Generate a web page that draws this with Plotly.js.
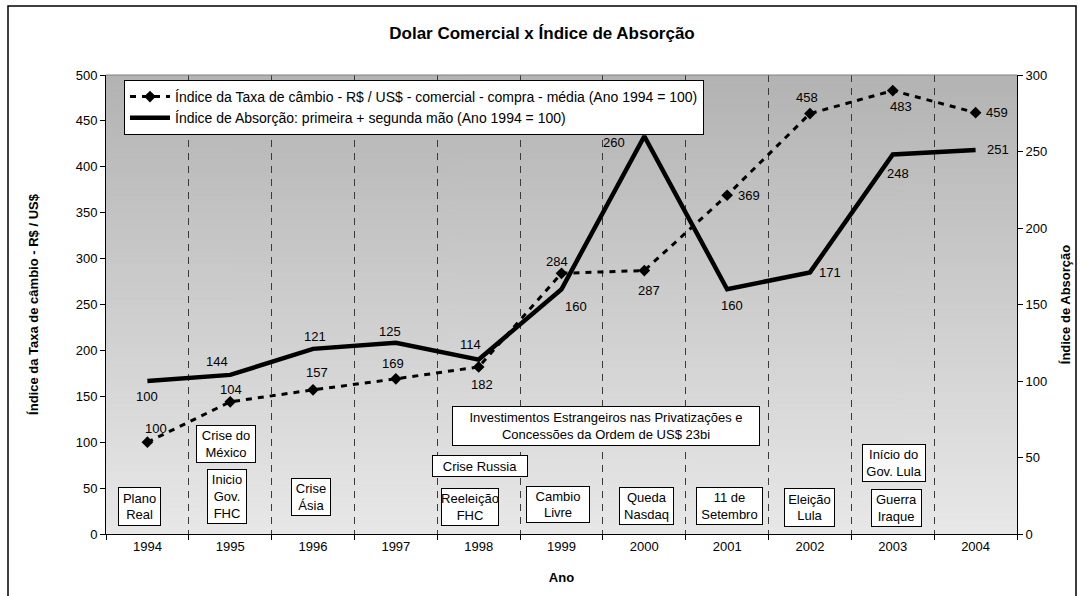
<!DOCTYPE html>
<html>
<head>
<meta charset="utf-8">
<script src="https://cdn.plot.ly/plotly-3.0.1.min.js"></script>
<style>html,body{margin:0;padding:0;background:#fff}#chart{width:1084px;height:596px}</style>
</head>
<body>
<div id="chart"></div>
<script>
// ---- data ----
const years = ['1994','1995','1996','1997','1998','1999','2000','2001','2002','2003','2004'];
const cambio = [100,144,157,169,182,284,287,369,458,483,459];
const absorcao = [100,104,121,125,114,160,260,160,171,248,251];
const cambioLabels = ['100','104','157','169','182','284','287','369','458','483','459'];
const absorcaoLabels = ['100','144','121','125','114','160','260','160','171','248','251'];
const cambioName = 'Índice da Taxa de câmbio - R$ / US$ - comercial - compra - média (Ano 1994 = 100)';
const absorcaoName = 'Índice de Absorção: primeira + segunda mão (Ano 1994 = 100)';
const eventTexts = ['Plano<br>Real','Crise do<br>México','Inicio<br>Gov.<br>FHC','Crise<br>Ásia','Crise Russia',
  'Investimentos Estrangeiros nas Privatizações e<br>Concessões da Ordem de US$ 23bi',
  'Reeleição<br>FHC','Cambio<br>Livre','Queda<br>Nasdaq','11 de<br>Setembro','Eleição<br>Lula','Início do<br>Gov. Lula','Guerra<br>Iraque'];

// ---- label placement (pixel offsets) ----
const cambioOff = [[9,-14],[1,-12],[4,-17],[-3,-15],[3,18],[-5,-12],[5,20],[22,0],[-3,-16],[8,16],[21,0]];
const absOff = [[0,15],[-13,-13],[2,-12],[-6,-11],[-8,-15],[14,17],[-30,6],[5,16],[20,0],[5,19],[22,0]];
// event boxes in pixels: x0,x1,y0,y1
const eventBoxes = [[118,161,487,526],[196,256,425,463],[207,247,469,524],[291,331,478,516],[432,528,455,477],
  [452,760,406,446],[441,499,488,526],[526,590,486,523],[619,674,487,525],[696,763,487,525],[784,835,488,527],
  [862,926,444,482],[871,922,489,527]];

const PL=106, PR=1017, PT=75, PB=534;
const px2x = p => (p-PL)/(PR-PL);
const py2y = p => (PB-p)/(PB-PT);
const FONT = 'Arial, "Liberation Sans", sans-serif';

// gradient background image
function gradientURL(){
  const c=document.createElement('canvas'); c.width=4; c.height=256;
  const g=c.getContext('2d'); const gr=g.createLinearGradient(0,0,0,256);
  gr.addColorStop(0,'#b3b3b3'); gr.addColorStop(1,'#e8e8e8');
  g.fillStyle=gr; g.fillRect(0,0,4,256); return c.toDataURL('image/png');
}

const traces = [
  {x:years, y:cambio, name:cambioName, type:'scatter', mode:'lines+markers', yaxis:'y',
   line:{color:'#000', width:3, dash:'6px,6px'}, marker:{symbol:'diamond', size:9, color:'#000'}},
  {x:years, y:absorcao, name:absorcaoName, type:'scatter', mode:'lines', yaxis:'y2',
   line:{color:'#000', width:4.5}}
];

const annotations = [];
years.forEach((yr,i)=>{
  annotations.push({x:i, y:cambio[i], xref:'x', yref:'y', text:cambioLabels[i], showarrow:false,
    xshift:cambioOff[i][0], yshift:-cambioOff[i][1], font:{family:FONT,size:13,color:'#000'}});
  annotations.push({x:i, y:absorcao[i], xref:'x', yref:'y2', text:absorcaoLabels[i], showarrow:false,
    xshift:absOff[i][0], yshift:-absOff[i][1], font:{family:FONT,size:13,color:'#000'}});
});
eventTexts.forEach((t,i)=>{
  const b=eventBoxes[i];
  annotations.push({xref:'paper', yref:'paper', x:px2x((b[0]+b[1])/2), y:py2y((b[2]+b[3])/2),
    xanchor:'center', yanchor:'middle', text:t, showarrow:false, align:'center',
    width:b[1]-b[0]-2, height:b[3]-b[2]-2, borderpad:0, borderwidth:1, bordercolor:'#000', bgcolor:'#fff',
    font:{family:FONT,size:13,color:'#000'}});
});

const shapes = [
  {type:'line', xref:'paper', yref:'paper', x0:0, x1:1, y0:1, y1:1, line:{color:'#808080', width:1}},
  {type:'rect', xref:'paper', yref:'paper', x0:px2x(8), x1:px2x(1076), y0:py2y(6), y1:py2y(620),
   line:{color:'#000', width:1.5}, fillcolor:'rgba(0,0,0,0)'}
];

const layout = {
  width:1084, height:596,
  margin:{l:PL, r:1084-PR, t:PT, b:596-PB},
  paper_bgcolor:'#fff', plot_bgcolor:'rgba(0,0,0,0)',
  font:{family:FONT, size:13, color:'#000'},
  title:{text:'<b>Dolar Comercial x Índice de Absorção</b>', font:{family:FONT,size:17,color:'#000'},
    x:0.5, xanchor:'center', y:1-33/596, yanchor:'middle', yref:'container'},
  showlegend:true,
  legend:{x:px2x(124), y:py2y(80), xanchor:'left', yanchor:'top', bgcolor:'#fff', bordercolor:'#000', borderwidth:1,
    font:{family:FONT,size:14,color:'#000'}, tracegroupgap:0, itemwidth:40},
  xaxis:{type:'category', categoryorder:'array', categoryarray:years, range:[-0.5,10.5],
    showline:true, linecolor:'#000', linewidth:1, ticks:'outside', ticklen:5, tickcolor:'#000', tickson:'boundaries',
    showgrid:true, gridcolor:'#3a3a3a', gridwidth:1, griddash:'7px,6px', zeroline:false,
    tickfont:{family:FONT,size:13,color:'#000'},
    title:{text:'<b>Ano</b>', font:{family:FONT,size:13,color:'#000'}, standoff:20}},
  yaxis:{range:[0,500], dtick:50, showline:true, linecolor:'#000', linewidth:1, ticks:'outside', ticklen:5,
    tickcolor:'#000', showgrid:false, zeroline:false, tickfont:{family:FONT,size:13,color:'#000'},
    title:{text:'<b>Índice da Taxa de câmbio - R$ / US$</b>', font:{family:FONT,size:13,color:'#000'}, standoff:34}},
  yaxis2:{range:[0,300], dtick:50, overlaying:'y', side:'right', showline:true, linecolor:'#000', linewidth:1,
    ticks:'outside', ticklen:5, tickcolor:'#000', showgrid:false, zeroline:false,
    tickfont:{family:FONT,size:13,color:'#000'},
    title:{text:'<b>Índice de Absorção</b>', font:{family:FONT,size:13,color:'#000'}, standoff:14}},
  annotations:annotations,
  shapes:shapes,
  images:[{source:gradientURL(), xref:'paper', yref:'paper', x:0, y:1, sizex:1, sizey:1,
    sizing:'stretch', xanchor:'left', yanchor:'top', layer:'below'}],
  hovermode:false
};

Plotly.newPlot('chart', traces, layout, {displayModeBar:false, staticPlot:true});
</script>
</body>
</html>
